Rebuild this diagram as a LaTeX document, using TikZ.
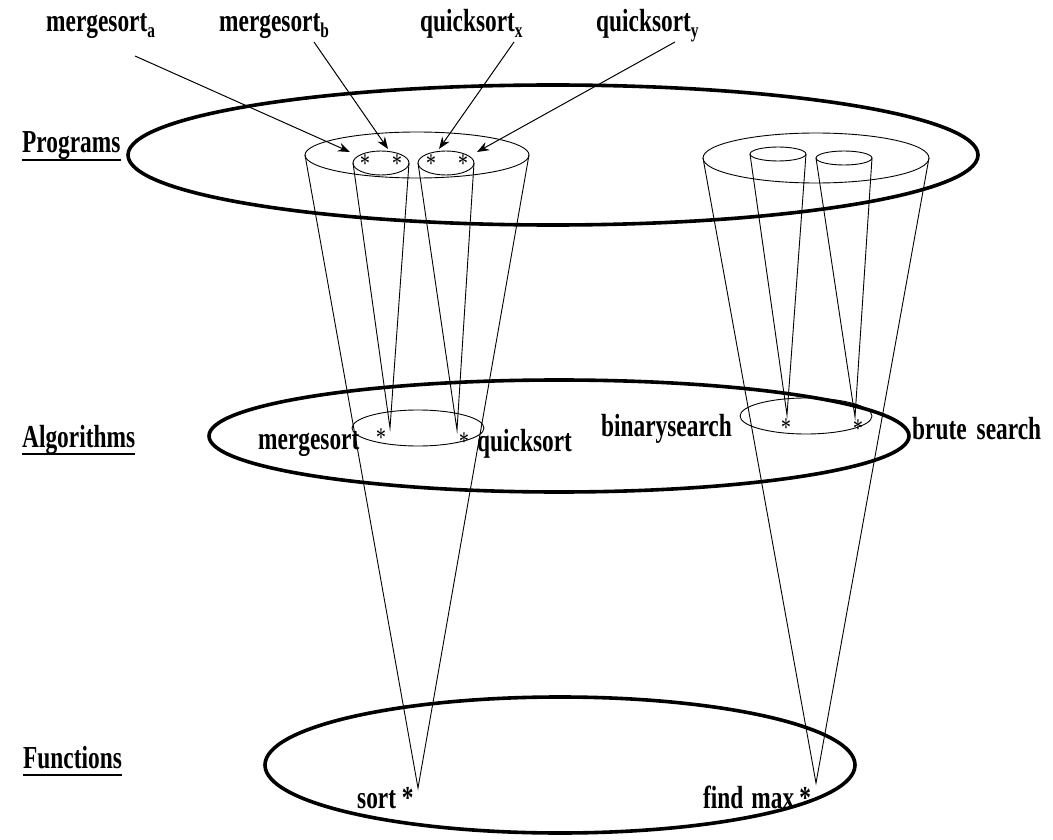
\documentclass[tikz,border=0pt]{standalone}
\usepackage{fontspec}
\setmainfont{Liberation Serif}[FakeStretch=0.73]
\usetikzlibrary{arrows.meta}
\newcommand\subs[1]{\raisebox{-6pt}{\fontsize{21}{21}\selectfont #1}}
\tikzset{
  lab/.style={font=\fontsize{32}{34}\selectfont\bfseries, inner sep=0pt, anchor=base west},
  starnode/.style={font=\fontsize{27}{27}\selectfont, inner sep=0pt},
  thick ell/.style={line width=3.6pt},
  thin/.style={line width=0.9pt},
  ulin/.style={line width=2.8pt},
  pointer/.style={line width=1pt, -{Stealth[length=12pt,width=9pt]}},
}
\begin{document}
\begin{tikzpicture}[x=1pt,y=-1pt]
\useasboundingbox (0,0) rectangle (1053,840);
% level ellipses
\draw[thick ell] (553,155) ellipse [x radius=425pt, y radius=70pt];
\draw[thick ell] (559,436) ellipse [x radius=350pt, y radius=56pt];
\draw[thick ell] (560,765) ellipse [x radius=295pt, y radius=68pt];

% level labels
\node[lab] (prog) at (22,153) {Programs};
\node[lab] (alg) at (22,447) {Algorithms};
\node[lab] (fun) at (23,768) {Functions};
\foreach \n in {prog,alg,fun}
  \draw[ulin] ([yshift=-7pt]\n.base west) -- ([yshift=-7pt]\n.base east);

% left group : programs cone tops
\draw[thin] (417,155) ellipse [x radius=112pt, y radius=23pt];
\draw[thin] (381,163) ellipse [x radius=28pt, y radius=12pt];
\draw[thin] (446,163) ellipse [x radius=28pt, y radius=12pt];
% right group
\draw[thin] (816,158) ellipse [x radius=113pt, y radius=25pt];
\draw[thin] (778,154) ellipse [x radius=28pt, y radius=7pt];
\draw[thin] (844,158) ellipse [x radius=28pt, y radius=7pt];
% algorithm inner ellipses
\draw[thin] (418,428) ellipse [x radius=66pt, y radius=18pt];
\draw[thin] (806,416) ellipse [x radius=66pt, y radius=18pt];

% apex coordinates
\coordinate (sortpt) at (418,788);
\coordinate (maxpt) at (816,783);
\coordinate (mspt) at (390,428);
\coordinate (qspt) at (457,430);
\coordinate (bspt) at (787,415);
\coordinate (brpt) at (855,417);

% cone lines
\draw[thin] (305,155) -- (sortpt) -- (529,155);
\draw[thin] (353,163) -- (mspt) -- (409,163);
\draw[thin] (418,163) -- (qspt) -- (474,163);
\draw[thin] (703,158) -- (maxpt) -- (929,158);
\draw[thin] (750,154) -- (bspt) -- (806,154);
\draw[thin] (816,158) -- (brpt) -- (872,158);

% stars in programs
\node[starnode] (s1) at (365,164) {*};
\node[starnode] (s2) at (397,164) {*};
\node[starnode] (s3) at (431,164) {*};
\node[starnode] (s4) at (463,164) {*};

% top labels
\node[lab] (ma) at (46,32) {mergesort\subs{a}};
\node[lab] (mb) at (219,32) {mergesort\subs{b}};
\node[lab] (qx) at (420,32) {quicksort\subs{x}};
\node[lab] (qy) at (596,32) {quicksort\subs{y}};
\coordinate (ta) at (350,152);
\coordinate (tb) at (388,149);
\coordinate (tx) at (439,149);
\coordinate (ty) at (477,152);
\draw[pointer] (135,56) -- (ta);
\draw[pointer] (314,42) -- (tb);
\draw[pointer] (514,42) -- (tx);
\draw[pointer] (675,42) -- (ty);

% algorithm labels
\node[lab] (msl) at (258,449) {mergesort};
\node[starnode] (ms) at (381,438) {*};
\node[starnode] (qs) at (464,442) {*};
\node[lab] (qsl) at (477,451) {quicksort};
\node[lab] (bsl) at (601,436) {binarysearch};
\node[starnode] (bs) at (786,428) {*};
\node[starnode] (br) at (858,429) {*};
\node[lab] (brl) at (912,439) {brute\hspace{10pt}search};

% function labels
\node[lab] (sortl) at (357,808) {sort *};
\node[lab] (maxl) at (703,808) {find\hspace{8pt}max\hspace{5pt}*};
\end{tikzpicture}
\end{document}
